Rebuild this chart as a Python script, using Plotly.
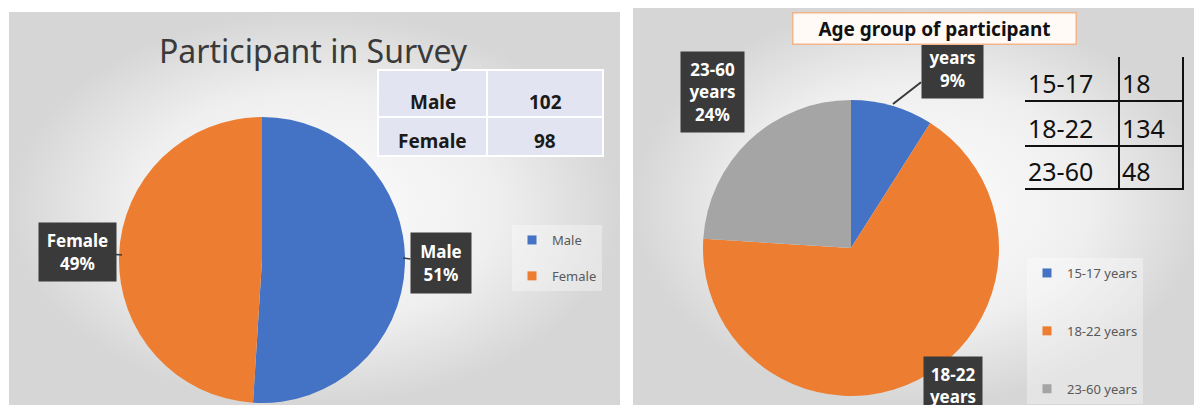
import plotly.graph_objects as go

# left chart data
sex = ["Male", "Female"]
sex_count = [102, 98]
# right chart data
age_group = ["15-17 years", "18-22 years", "23-60 years"]
age_short = ["15-17", "18-22", "23-60"]
age_count = [18, 134, 48]

title1 = "Participant in Survey"
title2 = "Age group of participant"

sex_colors = ["#4472C4", "#ED7D31"]
age_colors = ["#4472C4", "#ED7D31", "#A5A5A5"]

# the page body has an 8px margin, so the figure is made 8px smaller and
# the axes are set so that data units equal screen pixels
SW, SH = 1202, 405
OFF = 8
W, H = SW - OFF, SH - OFF

def px(sx):
    return (sx - OFF) / W

def py(sy):
    return (SH - sy) / H

def pct(vals):
    t = sum(vals)
    return [round(100 * v / t) for v in vals]

fig = go.Figure()

# panel backgrounds (radial grey gradient like the excel chart area)
for x0, y0, x1, y1 in [(9, 12, 620, 405), (633, 3, 1202, 405)]:
    fig.add_trace(go.Scatter(
        x=[x0, x1, x1, x0, x0], y=[y0, y0, y1, y1, y0],
        mode="lines", line=dict(width=0), fill="toself",
        fillgradient=dict(type="radial",
                          colorscale=[[0, "#fdfdfd"], [0.6, "#efefef"], [1, "#d6d6d6"]]),
        showlegend=False, hoverinfo="skip"))

# pies
fig.add_trace(go.Pie(
    labels=sex, values=sex_count, sort=False, direction="clockwise", rotation=0,
    marker=dict(colors=sex_colors), textinfo="none", showlegend=False,
    domain=dict(x=[px(119), px(405)], y=[py(403), py(117)])))
fig.add_trace(go.Pie(
    labels=age_group, values=age_count, sort=False, direction="clockwise", rotation=0,
    marker=dict(colors=age_colors), textinfo="none", showlegend=False,
    domain=dict(x=[px(703), px(999)], y=[py(396), py(100)])))

# legends (one group per entry so the gap can be set)
for name, c in zip(sex, sex_colors):
    fig.add_trace(go.Scatter(x=[None], y=[None], mode="markers", name=name,
                             marker=dict(symbol="square", size=9, color=c),
                             legend="legend", legendgroup=name))
for name, c in zip(age_group, age_colors):
    fig.add_trace(go.Scatter(x=[None], y=[None], mode="markers", name=name,
                             marker=dict(symbol="square", size=9, color=c),
                             legend="legend2", legendgroup=name))

shapes = []
ann = []

# left table: lavender cells with white grid
t1_x = [378, 487, 603]
t1_y = [70, 117, 156]
shapes.append(dict(type="rect", xref="x", yref="y", x0=t1_x[0], x1=t1_x[-1], y0=t1_y[0], y1=t1_y[-1],
                   fillcolor="#e2e5f1", line=dict(color="white", width=2), layer="above"))
shapes.append(dict(type="line", xref="x", yref="y", x0=t1_x[0], x1=t1_x[-1], y0=t1_y[1], y1=t1_y[1],
                   line=dict(color="white", width=2)))
shapes.append(dict(type="line", xref="x", yref="y", x0=t1_x[1], x1=t1_x[1], y0=t1_y[0], y1=t1_y[-1],
                   line=dict(color="white", width=2)))
for i, (s, n) in enumerate(zip(sex, sex_count)):
    yy = t1_y[i + 1] - 15
    for j, v in enumerate([s, n]):
        ann.append(dict(text=f"<b>{v}</b>", x=(t1_x[j] + t1_x[j + 1]) / 2, y=yy, xref="x", yref="y",
                        showarrow=False, font=dict(family="Noto Sans", size=19, color="#1a1a1a")))

# right table: black lines under rows, column divider and right edge
t2_x = [1025, 1119, 1183]
t2_y = [57, 101, 146, 189]
for yy in t2_y[1:]:
    shapes.append(dict(type="line", xref="x", yref="y", x0=t2_x[0], x1=t2_x[-1] + 1, y0=yy, y1=yy,
                       line=dict(color="#111111", width=2)))
for xx in t2_x[1:]:
    shapes.append(dict(type="line", xref="x", yref="y", x0=xx, x1=xx, y0=t2_y[0], y1=t2_y[-1] + 1,
                       line=dict(color="#111111", width=2)))
for i, (a, n) in enumerate(zip(age_short, age_count)):
    yy = t2_y[i + 1] - 18
    ann.append(dict(text=a, x=t2_x[0] + 1, y=yy, xref="x", yref="y", xanchor="left",
                    showarrow=False, font=dict(family="Noto Sans", size=25, color="#111111")))
    ann.append(dict(text=str(n), x=t2_x[1] + 1, y=yy, xref="x", yref="y", xanchor="left",
                    showarrow=False, font=dict(family="Noto Sans", size=25, color="#111111")))

ann.append(dict(text=title1, x=313, y=50, xref="x", yref="y", showarrow=False,
                font=dict(family="Noto Sans", size=32, color="#3a3a3a")))

# data labels for the left pie
p1 = pct(sex_count)
lab = dict(xref="x", yref="y", bgcolor="#3a3a3a", borderpad=0, align="center",
           font=dict(family="Noto Sans", size=17, color="white", weight="bold"),
           arrowhead=0, arrowwidth=1.5, arrowcolor="#3a3a3a")
ann.append(dict(lab, text=f"{sex[1]}<br>{p1[1]}%", x=122, y=255, ax=-45, ay=-3,
                width=77, height=58, showarrow=True))
ann.append(dict(lab, text=f"{sex[0]}<br>{p1[0]}%", x=403, y=258, ax=38, ay=5,
                width=60, height=60, showarrow=True))

# data labels for the right pie
p2 = pct(age_count)
ann.append(dict(lab, text=f"{age_short[0]}<br>years<br>{p2[0]}%", x=893, y=104, ax=59, ay=-46,
                width=61, height=80, showarrow=True, arrowwidth=2))
ann.append(dict(lab, text=f"{age_short[2]}<br>years<br>{p2[2]}%", x=712, y=92,
                width=63, height=80, showarrow=False))
ann.append(dict(lab, text=f"{age_short[1]}<br>years<br>{p2[1]}%", x=953, y=397,
                width=58, height=80, showarrow=False))

ann.append(dict(text=f"<b>{title2}</b>", x=934, y=28, xref="x", yref="y", showarrow=False,
                width=280, height=28, bgcolor="#fffaf5", bordercolor="#f2b58a", borderwidth=1.5,
                font=dict(family="Noto Sans", size=19, color="#111111")))

fig.update_layout(
    width=W, height=H, margin=dict(l=0, r=0, t=0, b=0),
    paper_bgcolor="white", plot_bgcolor="white",
    xaxis=dict(range=[OFF, SW], visible=False, fixedrange=True),
    yaxis=dict(range=[SH, OFF], visible=False, fixedrange=True),
    shapes=shapes, annotations=ann,
    legend=dict(x=px(512), y=py(225), xanchor="left", yanchor="top",
                tracegroupgap=16, bgcolor="rgba(255,255,255,0.35)",
                font=dict(family="Noto Sans", size=13, color="#595959")),
    legend2=dict(x=px(1027), y=py(258), xanchor="left", yanchor="top",
                 tracegroupgap=38, bgcolor="rgba(255,255,255,0.35)",
                 font=dict(family="Noto Sans", size=13, color="#595959")),
)

fig.write_html("out.html")
